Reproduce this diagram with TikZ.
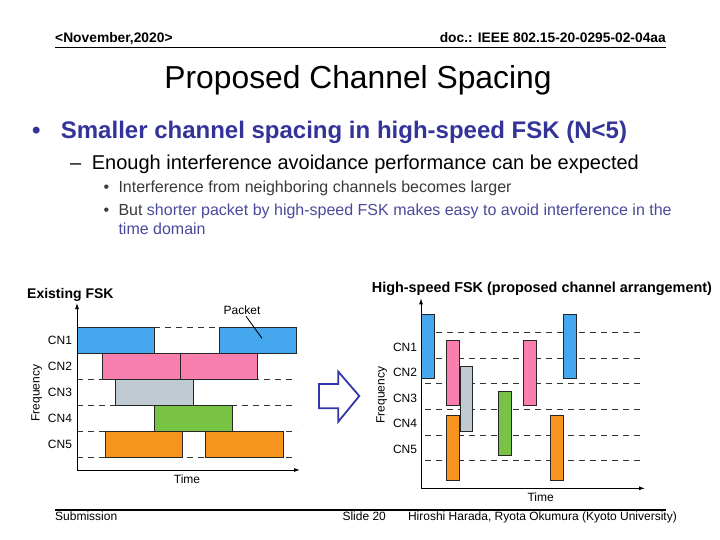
\documentclass[tikz,border=0pt]{standalone}
\usepackage{fontspec}
\setmainfont{Liberation Sans}
\usetikzlibrary{arrows.meta,positioning}

\definecolor{slideblue}{HTML}{333399}
\definecolor{subblue}{HTML}{4A4A9C}
\definecolor{subgray}{HTML}{3A3A3A}
\definecolor{pktblue}{HTML}{45A8EE}
\definecolor{pktpink}{HTML}{F87FAE}
\definecolor{pktgray}{HTML}{BFCAD3}
\definecolor{pktgreen}{HTML}{78C244}
\definecolor{pktorange}{HTML}{F7941E}
\definecolor{arrowblue}{HTML}{3535AA}

\begin{document}
\begin{tikzpicture}[x=1pt,y=-1pt,>={Latex[length=6pt,width=4pt]},
  txt/.style={inner sep=0pt,anchor=base west},
  pkt/.style={draw=black!85,line width=0.9pt},
  chline/.style={draw=black!80,line width=0.8pt,dash pattern=on 6pt off 5pt},
  axis/.style={->,line width=0.9pt},
  lbl/.style={inner sep=1pt,font=\fontsize{12}{14}\selectfont}]
  \useasboundingbox[fill=white] (0,0) rectangle (720,540);

  % header and footer
  \node[txt,font=\bfseries\fontsize{13.8}{16}\selectfont] (date) at (55,43) {<November,2020>};
  \node[txt,anchor=base east,font=\bfseries\fontsize{13.8}{16}\selectfont] (docid) at (666,43) {doc.: IEEE 802.15-20-0295-02-04aa};
  \draw[line width=1.5pt] (55,47.5) -- (666,47.5);
  \draw[line width=1.7pt] (55,510) -- (666,510);
  \node[txt,font=\fontsize{12}{14}\selectfont] (sub) at (55,520.7) {Submission};
  \node[txt,font=\fontsize{12}{14}\selectfont] (slide) at (342.3,520.7) {Slide 20};
  \node[txt,anchor=base east,font=\fontsize{12}{14}\selectfont] (authors) at (677,520.7) {Hiroshi Harada, Ryota Okumura (Kyoto University)};

  % title and bullets
  \node[txt,anchor=base,font=\fontsize{31.8}{38}\selectfont] (title) at (358,88.3) {Proposed Channel Spacing};
  \node[txt,text=slideblue,font=\bfseries\fontsize{24}{29}\selectfont] (dotA) at (32,139) {\textbullet};
  \node[txt,text=slideblue,font=\bfseries\fontsize{24}{29}\selectfont] (itemA) at (60.7,139) {Smaller channel spacing in high-speed FSK (N<5)};
  \node[txt,font=\fontsize{20}{24}\selectfont] (dashB) at (70,170) {\textendash};
  \node[txt,font=\fontsize{20}{24}\selectfont] (itemB) at (91.7,170) {Enough interference avoidance performance can be expected};
  \node[txt,text=subgray,font=\fontsize{16}{19}\selectfont] (dotC) at (103.5,192.3) {\textbullet};
  \node[txt,text=subgray,font=\fontsize{16}{19}\selectfont] (itemC) at (118.3,192.3) {Interference from neighboring channels becomes larger};
  \node[txt,text=subgray,font=\fontsize{16}{19}\selectfont] (dotD) at (103.5,215) {\textbullet};
  \node[txt,text=subgray,font=\fontsize{16}{19}\selectfont] (itemD) at (118.3,215) {But \textcolor{subblue}{shorter packet by high-speed FSK makes easy to avoid interference in the}};
  \node[txt,text=subblue,font=\fontsize{16}{19}\selectfont] (itemDb) at (118.3,235) {time domain};

  % existing FSK
  \node[txt,font=\bfseries\fontsize{14}{17}\selectfont] (exTitle) at (27,298) {Existing FSK};
  \coordinate (exO) at (77,470);
  \coordinate (exY) at (77,303);
  \coordinate (exX) at (300,470);
  \foreach \y in {327.5,353.5,379.4,405.4,431.3,457.3}
    \draw[chline] (77,\y) -- (297,\y);
  \draw[pkt,fill=pktblue] (77.3,327.5) rectangle (154,353.5);
  \draw[pkt,fill=pktblue] (219,327.5) rectangle (296.7,353.5);
  \draw[pkt,fill=pktpink] (102.3,353.5) rectangle (180,379.4);
  \draw[pkt,fill=pktpink] (180,353.5) rectangle (257.7,379.4);
  \draw[pkt,fill=pktgray] (115.7,379.4) rectangle (193.3,405.4);
  \draw[pkt,fill=pktgreen] (154,405.4) rectangle (232.3,431.3);
  \draw[pkt,fill=pktorange] (105.3,431.3) rectangle (182.7,457.3);
  \draw[pkt,fill=pktorange] (205.3,431.3) rectangle (283.3,457.3);
  \draw[axis] (exO) -- (exY);
  \draw[axis] (exO) -- (exX);
  \foreach \n/\y in {1/340.5,2/366.5,3/392.4,4/418.4,5/444.3}
    \node[lbl] (exCN\n) at (60,\y) {CN\n};
  \node[lbl,rotate=90] (exFreq) at (36.7,393.3) {Frequency};
  \node[lbl] (exTime) at (187,479.3) {Time};
  \node[lbl] (packet) at (242,310.7) {Packet};
  \coordinate (packetTip) at (262,338.3);
  \draw[line width=0.9pt] (packet) -- (packetTip);

  % block arrow
  \draw[arrowblue,line width=1.8pt,line join=miter] (319,384) -- (338.3,384) -- (338.3,371.7)
    -- (359.3,396) -- (338.3,421.7) -- (338.3,408.3) -- (319,408.3) -- cycle;

  % high-speed FSK
  \node[txt,font=\bfseries\fontsize{14.4}{17}\selectfont] (hsTitle) at (371.7,292) {High-speed FSK (proposed channel arrangement)};
  \coordinate (hsO) at (421,488.3);
  \coordinate (hsY) at (421,298.3);
  \coordinate (hsX) at (645,488.3);
  \foreach \y in {332.3,358,383.7,409.4,435.1,460.8}
    \draw[chline] (425,\y) -- (642,\y);
  \draw[pkt,fill=pktblue] (421.7,314.3) rectangle (434.3,378.3);
  \draw[pkt,fill=pktpink] (446.7,340) rectangle (459.3,405);
  \draw[pkt,fill=pktgray] (460,366.7) rectangle (472.7,431.3);
  \draw[pkt,fill=pktorange] (446.7,415.7) rectangle (459.3,480.7);
  \draw[pkt,fill=pktgreen] (498.3,391.7) rectangle (511,455.7);
  \draw[pkt,fill=pktpink] (523.3,340) rectangle (536,405);
  \draw[pkt,fill=pktorange] (550,415.7) rectangle (563.3,480.7);
  \draw[pkt,fill=pktblue] (563.7,314.3) rectangle (576.7,378.3);
  \draw[axis] (hsO) -- (hsY);
  \draw[axis] (hsO) -- (hsX);
  \foreach \n/\y in {1/347,2/372.5,3/398,4/423.5,5/449}
    \node[lbl] (hsCN\n) at (405,\y) {CN\n};
  \node[lbl,rotate=90] (hsFreq) at (381.7,395) {Frequency};
  \node[lbl] (hsTime) at (540.7,497.7) {Time};
\end{tikzpicture}
\end{document}
